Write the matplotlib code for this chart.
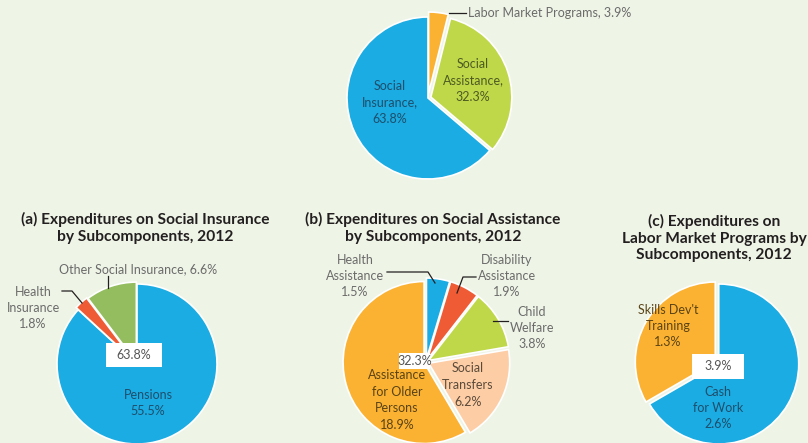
import matplotlib.pyplot as plt
from matplotlib.patches import Rectangle

W, H = 808, 443
BG = "#eef4e6"
BLUE = "#1aace3"
GREEN = "#bfd84a"
ORANGE = "#fbb232"
RED = "#ef5b35"
OLIVE = "#93bd5e"
PEACH = "#fdcda5"
GRAY = "#6b6b6b"

# shares of total social protection expenditure, 2012 (%)
main_labels = ["Labor Market Programs", "Social Assistance", "Social Insurance"]
main_values = [3.9, 32.3, 63.8]

ins_labels = ["Pensions", "Health Insurance", "Other Social Insurance"]
ins_values = [55.5, 1.8, 6.6]

asst_labels = ["Health Assistance", "Disability Assistance", "Child Welfare",
               "Social Transfers", "Assistance for Older Persons"]
asst_values = [1.5, 1.9, 3.8, 6.2, 18.9]

lmp_labels = ["Cash for Work", "Skills Dev't Training"]
lmp_values = [2.6, 1.3]

plt.rcParams["font.family"] = ["Lato", "DejaVu Sans"]

fig = plt.figure(figsize=(W / 100, H / 100), dpi=100, facecolor=BG)
ax = fig.add_axes([0, 0, 1, 1])
ax.set_facecolor(BG)


def Y(y):
    # image pixel row -> data y
    return H - y


wp = dict(edgecolor="white", linewidth=1.2)

# top pie
ax.pie(main_values, colors=[ORANGE, GREEN, BLUE], startangle=90,
       counterclock=False, center=(428, Y(98)), radius=81,
       explode=[5, 3, 0], wedgeprops=wp)

# (a) social insurance
ax.pie(ins_values, colors=[BLUE, RED, OLIVE], startangle=90,
       counterclock=False, center=(137, Y(364)), radius=80,
       explode=[0, 3, 2], wedgeprops=wp)

# (b) social assistance
ax.pie(asst_values, colors=[BLUE, RED, GREEN, PEACH, ORANGE], startangle=90,
       counterclock=False, center=(426, Y(362)), radius=81,
       explode=[3, 3, 3, 3, 2], wedgeprops=wp)

# (c) labor market programs
ax.pie(lmp_values, colors=[BLUE, ORANGE], startangle=90,
       counterclock=False, center=(717, Y(363)), radius=80,
       explode=[2, 2], wedgeprops=wp)

ax.set_xlim(0, W)
ax.set_ylim(0, H)
ax.set_aspect("auto")
ax.axis("off")


def txt(x, y, s, color=GRAY, size=9, ls=1.45, weight="normal", **kw):
    ax.text(x, Y(y), s, color=color, fontsize=size, ha="center", va="center",
            linespacing=ls, fontweight=weight, **kw)


def line(xs, ys):
    ax.plot(xs, [Y(v) for v in ys], color="#231f20", lw=0.9)


# top pie labels
txt(390, 102, f"Social\nInsurance,\n{main_values[2]}%", color="#1f4e6b")
txt(473, 80, f"Social\nAssistance,\n{main_values[1]}%", color="#4d5a22")
ax.text(468, Y(13), f"{main_labels[0]}, {main_values[0]}%", color=GRAY,
        fontsize=9, ha="left", va="center")
line([449, 466], [13, 13])

# titles
tkw = dict(color="#231f20", size=11.2, weight="bold", ls=1.2)
txt(145, 228, "(a) Expenditures on Social Insurance\nby Subcomponents, 2012", **tkw)
txt(433, 228, "(b) Expenditures on Social Assistance\nby Subcomponents, 2012", **tkw)
txt(714, 238, "(c) Expenditures on\nLabor Market Programs by\nSubcomponents, 2012", **tkw)

# (a) labels
txt(138, 269, f"{ins_labels[2]}, {ins_values[2]}%")
line([108, 108], [276, 288])
txt(33, 308, f"Health\nInsurance\n{ins_values[1]}%")
line([62, 72, 82], [291, 291, 303])
txt(148, 403, f"{ins_labels[0]}\n{ins_values[0]}%", color="#1f4e6b")

# (b) labels
txt(355, 276, f"Health\nAssistance\n{asst_values[0]}%")
line([387, 428, 435], [272, 272, 283])
txt(507, 276, f"Disability\nAssistance\n{asst_values[1]}%")
line([476, 463, 457], [277, 277, 293])
txt(532, 328, f"Child\nWelfare\n{asst_values[2]}%")
line([508, 493], [321, 321])
txt(468, 385, f"Social\nTransfers\n{asst_values[3]}%", color="#5a4a3a")
txt(397, 400, f"Assistance\nfor Older\nPersons\n{asst_values[4]}%", color="#5a4315")

# (c) labels
txt(668, 326, f"Skills Dev't\nTraining\n{lmp_values[1]}%", color="#5a4315")
txt(718, 408, f"Cash\nfor Work\n{lmp_values[0]}%", color="#1f4e6b")

# white total boxes
for (x0, y0, w, h, s) in [(106, 343, 56, 24, f"{main_values[2]}%"),
                          (399, 353, 31, 16, f"{main_values[1]}%"),
                          (692, 354, 52, 25, f"{main_values[0]}%")]:
    ax.add_patch(Rectangle((x0, Y(y0 + h)), w, h, facecolor="white",
                           edgecolor="none", zorder=5))
    ax.text(x0 + w / 2, Y(y0 + h / 2), s, color="#555555", fontsize=9,
            ha="center", va="center", zorder=6)

fig.savefig("out.png", dpi=100, facecolor=BG)
